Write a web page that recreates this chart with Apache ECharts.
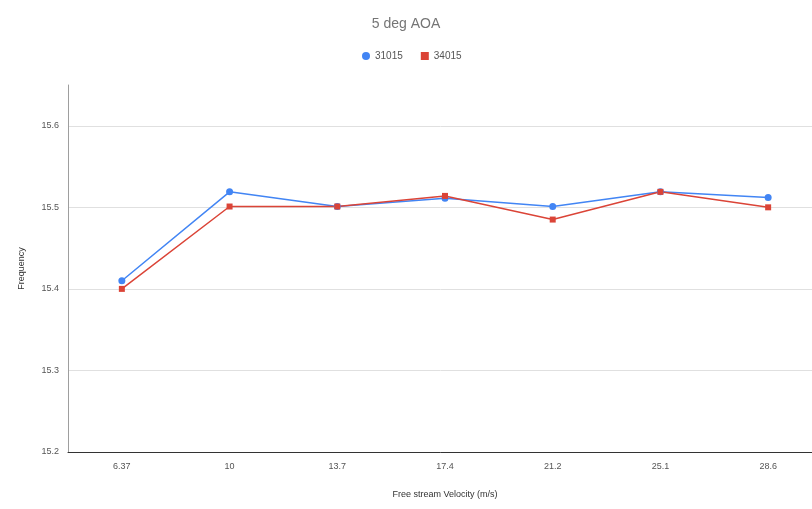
<!DOCTYPE html>
<html>
<head>
<meta charset="utf-8">
<script src="https://cdn.jsdelivr.net/npm/echarts@6/dist/echarts.min.js"></script>
<style>html,body{margin:0;padding:0;background:#fff;}#c{width:812px;height:509px;}</style>
</head>
<body>
<div id="c"></div>
<script>
const categories = ['6.37', '10', '13.7', '17.4', '21.2', '25.1', '28.6'];
const series31015 = [15.41, 15.519, 15.501, 15.511, 15.501, 15.519, 15.512];
const series34015 = [15.40, 15.501, 15.501, 15.514, 15.485, 15.519, 15.50];
const seriesNames = ['31015', '34015'];
const chartTitle = '5 deg AOA';
const xName = 'Free stream Velocity (m/s)';
const yName = 'Frequency';

const chart = echarts.init(document.getElementById('c'));
const font = 'Liberation Sans, Arial, sans-serif';
chart.setOption({
  animation: false,
  title: { text: chartTitle, left: 'center', top: 12, textStyle: { fontFamily: font, fontSize: 14, fontWeight: 'normal', color: '#757575' } },
  legend: {
    top: 46, left: 357, itemGap: 18, itemWidth: 8, itemHeight: 8,
    textStyle: { fontFamily: font, fontSize: 10, color: '#555' },
    data: [{ name: seriesNames[0], icon: 'circle' }, { name: seriesNames[1], icon: 'rect' }]
  },
  grid: { left: 68, width: 754, top: 85, bottom: 57, containLabel: false, outerBoundsMode: 'none' },
  xAxis: {
    type: 'category', data: categories, boundaryGap: true,
    name: xName, nameLocation: 'middle', nameGap: 38,
    nameTextStyle: { fontFamily: font, fontSize: 9, color: '#333' },
    axisLine: { lineStyle: { color: '#333', width: 1 } },
    axisTick: { alignWithLabel: true, length: 5, lineStyle: { color: '#333' } },
    axisLabel: { fontFamily: font, fontSize: 9, color: '#555', margin: 10 }
  },
  yAxis: {
    type: 'value', min: 15.2, max: 15.65, interval: 0.1,
    name: yName, nameLocation: 'middle', nameGap: 42, nameRotate: 90,
    nameTextStyle: { fontFamily: font, fontSize: 9, color: '#333' },
    axisLine: { show: true, lineStyle: { color: '#9e9e9e', width: 1 } },
    axisTick: { show: false },
    axisLabel: { fontFamily: font, fontSize: 9, color: '#555', margin: 9, showMaxLabel: false,
      formatter: v => v.toFixed(1) },
    splitLine: { show: true, lineStyle: { color: ['#e0e0e0', '#e0e0e0', '#e0e0e0', '#e0e0e0', '#e0e0e0', 'rgba(0,0,0,0)'], width: 1 } }
  },
  series: [
    { name: seriesNames[0], type: 'line', data: series31015, symbol: 'circle', symbolSize: 7,
      itemStyle: { color: '#4285F4' }, lineStyle: { width: 1.5, color: '#4285F4' } },
    { name: seriesNames[1], type: 'line', data: series34015, symbol: 'rect', symbolSize: 6,
      itemStyle: { color: '#DB4437' }, lineStyle: { width: 1.5, color: '#DB4437' } }
  ]
});
</script>
</body>
</html>
